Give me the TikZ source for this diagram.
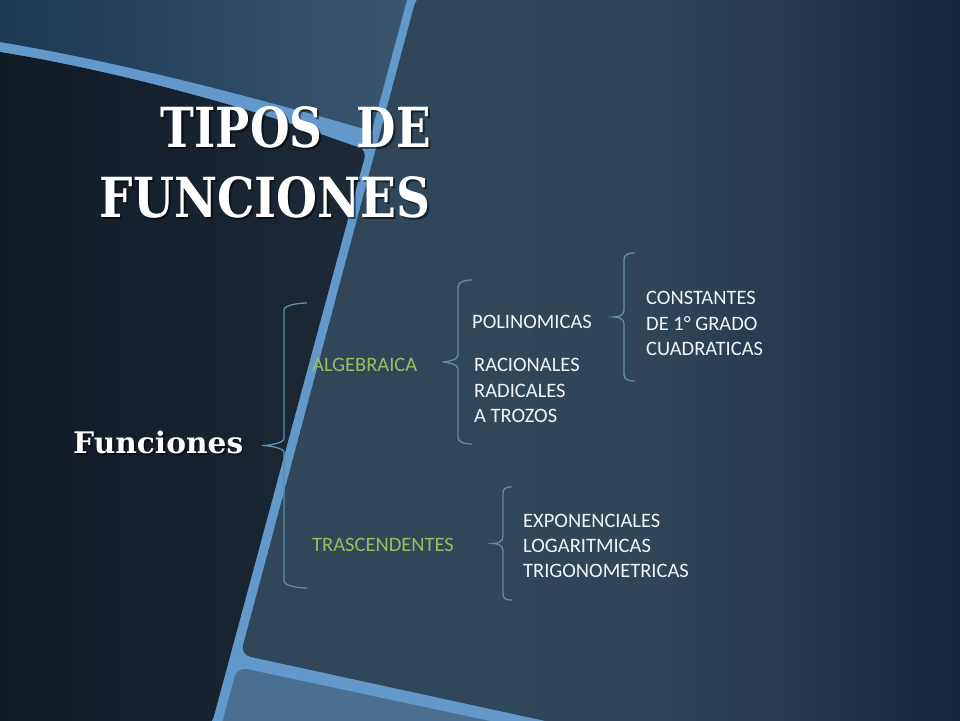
\documentclass[tikz,border=0pt]{standalone}
\usepackage{fontspec}
\setmainfont{Carlito}
\newfontfamily\titlefont{DejaVu Serif}
\definecolor{stripc}{HTML}{6298CA}
\definecolor{regAl}{HTML}{1B3855}
\definecolor{regAr}{HTML}{3A5671}
\definecolor{darkl}{HTML}{0F1A25}
\definecolor{darkr}{HTML}{1E2A37}
\definecolor{panelc}{HTML}{4A6F90}
\definecolor{mainA}{HTML}{30475A}
\definecolor{mainB}{HTML}{2F4558}
\definecolor{mainC}{HTML}{263B4F}
\definecolor{mainD}{HTML}{1B3045}
\definecolor{mainE}{HTML}{11263A}
\definecolor{bracec}{HTML}{5F8DAA}
\definecolor{greenc}{HTML}{92C25E}
\definecolor{textc}{HTML}{F2F5F8}
\pgfdeclarehorizontalshading{mainsh}{100bp}{color(0bp)=(mainA); color(37bp)=(mainA); color(53bp)=(mainB); color(62bp)=(mainC); color(69bp)=(mainD); color(75bp)=(mainE); color(100bp)=(mainE)}
\newcommand\tbrace[6]{%
  \draw[bracestyle] (#1,#2) .. controls +(-8,0) and +(0,-5) .. (#3,#2+7)
    -- (#3,#5-7)
    .. controls +(0,5) and +(5,0) .. (#4,#5)
    .. controls +(5,0) and +(0,-5) .. (#3,#5+7)
    -- (#3,#6-7)
    .. controls +(0,5) and +(-8,0) .. (#1,#6);}
\newcommand\tipostxt{\resizebox{270pt}{41pt}{\titlefont\bfseries\fontsize{56}{60}\selectfont TIPOS\hspace{0.75em}DE}}
\newcommand\functxt{\resizebox{331pt}{41pt}{\titlefont\bfseries\fontsize{56}{60}\selectfont FUNCIONES}}
\newcommand\subtxt{\resizebox{170pt}{!}{\titlefont\bfseries\fontsize{30}{34}\selectfont Funciones}}
\begin{document}
\begin{tikzpicture}[x=1pt,y=-1pt,
  bracestyle/.style={draw=bracec,line width=1.3pt},
  title/.style={inner sep=0pt,text=white},
  titleshadow/.style={inner sep=0pt,text=black,opacity=0.5},
  item/.style={inner sep=0pt,anchor=base west,text=textc,font=\fontsize{20.5}{25}\selectfont},
  gitem/.style={inner sep=0pt,anchor=base west,text=greenc,font=\fontsize{20.5}{25}\selectfont}]
\useasboundingbox (0,0) rectangle (960,720);
\clip (0,0) rectangle (960,720);
% background
\fill[stripc] (-5,-5) rectangle (965,725);
\shade[left color=regAl,right color=regAr] (-5,-5) -- (408.3,-5) -- (371.7,131)
  .. controls (250,96) and (120,62) .. (0,42) -- (-5,42) -- cycle;
\shade[shading=mainsh,rounded corners=10pt] (417,-5) -- (965,-5) -- (965,725) -- (564,725) -- (240.5,654.7) -- cycle;
\fill[panelc,rounded corners=10pt] (237.2,667) -- (560,736) -- (218.6,736) -- cycle;
\shade[left color=darkl,right color=darkr,rounded corners=8pt] (-5,52) -- (0,52)
  .. controls (120,72) and (250,108) .. (340,141) -- (366.6,150) -- (211.5,725) -- (-5,725) -- cycle;
% titles
\node[titleshadow,anchor=south east] at (433,150) {\tipostxt};
\node[title,anchor=south east] (t1) at (431,148) {\tipostxt};
\node[titleshadow,anchor=south east] at (433,220) {\functxt};
\node[title,anchor=south east] (t2) at (431,218) {\functxt};
\node[titleshadow,anchor=base west] at (75,455) {\subtxt};
\node[title,anchor=base west] (fun) at (73,453) {\subtxt};
% labels
\node[gitem] (alg) at (312,371) {ALGEBRAICA};
\node[gitem] (tras) at (312,551) {TRASCENDENTES};
\node[item] (pol) at (472,328) {POLINOMICAS};
\node[item] (rac) at (474,371) {RACIONALES};
\node[item] (rad) at (474,397) {RADICALES};
\node[item] (tro) at (474,422) {A TROZOS};
\node[item] (con) at (646,304) {CONSTANTES};
\node[item] (gra) at (646,330) {DE 1° GRADO};
\node[item] (cua) at (646,355) {CUADRATICAS};
\node[item] (exp) at (523,527) {EXPONENCIALES};
\node[item] (log) at (523,552) {LOGARITMICAS};
\node[item] (tri) at (523,577) {TRIGONOMETRICAS};
% braces
\coordinate (funtip) at (262,445.5);
\coordinate (algtip) at (442,362);
\coordinate (poltip) at (614,317);
\coordinate (trastip) at (493,543.5);
\tbrace{307}{303}{284}{262}{445.5}{588}
\tbrace{472}{280}{458}{442}{362}{444}
\tbrace{635}{253}{624}{614}{317}{381}
\tbrace{512}{487}{503}{493}{543.5}{600}
\end{tikzpicture}
\end{document}
